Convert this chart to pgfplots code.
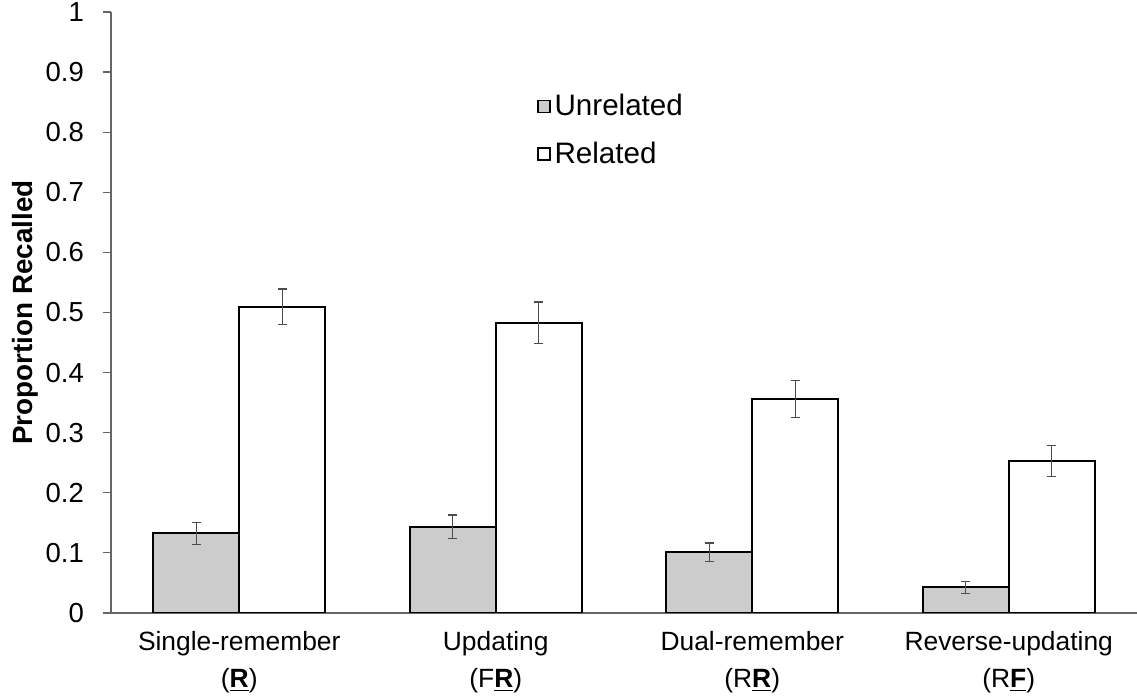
\documentclass[border=0pt]{standalone}
\usepackage{pgfplots}
\pgfplotsset{compat=1.18}
\usepackage{fontspec}
\setmainfont{Liberation Sans}
\begin{document}
\begin{tikzpicture}
\useasboundingbox (-55.5pt,-43.5pt) rectangle (513pt,306.5pt);
\begin{axis}[
  at={(0,0)}, anchor=south west,
  scale only axis,
  width=513pt, height=300.5pt,
  ybar=0pt, bar width=43pt,
  xmin=-0.5, xmax=3.5,
  ymin=0, ymax=1,
  xtick={0,1,2,3},
  xticklabels={{Single-remember\\(\textbf{\underline{R}})},{Updating\\(F\textbf{\underline{R}})},{Dual-remember\\(R\textbf{\underline{R}})},{Reverse-updating\\(R\textbf{\underline{F}})}},
  xticklabel style={align=center, font=\fontsize{13.2}{18.5}\selectfont, yshift=-1.5pt},
  x tick style={draw=none},
  ytick={0,0.1,0.2,0.3,0.4,0.5,0.6,0.7,0.8,0.9,1},
  yticklabels={0,0.1,0.2,0.3,0.4,0.5,0.6,0.7,0.8,0.9,1},
  yticklabel style={font=\fontsize{13.75}{15}\selectfont, xshift=-6pt},
  tick align=outside,
  major tick length=4pt,
  y tick style={draw=black!60, line width=0.6pt},
  axis x line*=bottom, axis y line*=left,
  axis line style={draw=black!60, line width=0.7pt, -},
  ylabel={\textbf{Proportion Recalled}},
  ylabel style={at={(axis description cs:-0.084,0.5)}, anchor=center, font=\fontsize{13.9}{15}\selectfont},
  legend style={at={(rel axis cs:0.415,0.87)}, anchor=north west, draw=none, fill=none, font=\fontsize{14.8}{17}\selectfont, row sep=7.5pt, inner sep=0pt, cells={anchor=west}},
  legend image code/.code={\draw[#1, draw=black, line width=0.7pt] (0pt,-3pt) rectangle (6pt,3pt);},
  error bars/y dir=both, error bars/y explicit,
  error bars/error bar style={draw=black!70, line width=0.6pt},
  error bars/error mark options={rotate=90, draw=black!70, line width=0.6pt, mark size=2.25pt},
]
\addplot[fill=black!20, draw=black, line width=1pt] coordinates {
  (0,0.1326) +- (0,0.0183)
  (1,0.1436) +- (0,0.0194)
  (2,0.1010) +- (0,0.0155)
  (3,0.0425) +- (0,0.0097)
};
\addplot[fill=white, draw=black, line width=1pt] coordinates {
  (0,0.5097) +- (0,0.0294)
  (1,0.4830) +- (0,0.0346)
  (2,0.3560) +- (0,0.0310)
  (3,0.2530) +- (0,0.0253)
};
\legend{Unrelated, Related}
\end{axis}
\end{tikzpicture}
\end{document}
